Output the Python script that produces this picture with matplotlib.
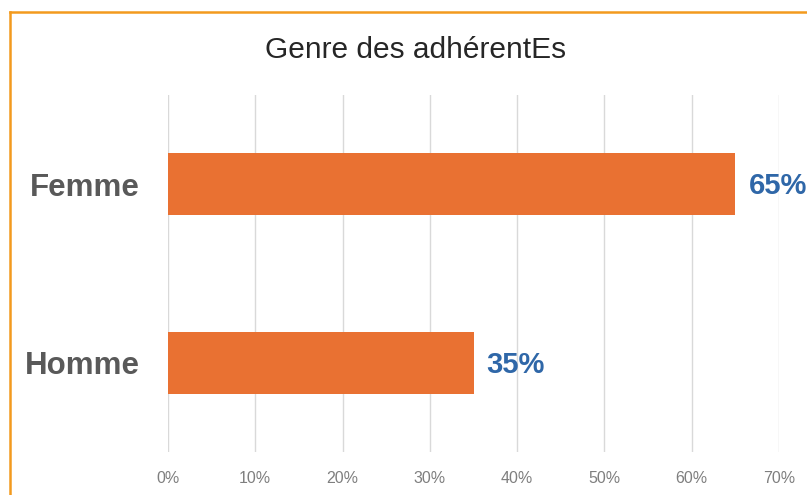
import matplotlib
matplotlib.use("Agg")
import matplotlib.pyplot as plt
from matplotlib.lines import Line2D
from matplotlib.ticker import PercentFormatter

plt.rcParams['font.family'] = ['Liberation Sans', 'DejaVu Sans']

categories = ["Homme", "Femme"]
values = [0.35, 0.65]
title = "Genre des adhérentEs"

fig = plt.figure(figsize=(8.07, 4.95), dpi=100)
ax = fig.add_axes([168/807, 1-452/495, (779-168)/807, (452-95)/495])

ax.barh(categories, values, height=0.35, color="#E97132", zorder=3)
for i, v in enumerate(values):
    ax.text(v + 0.015, i - 0.01, f"{v:.0%}", va="center", ha="left",
            fontsize=21, fontweight="bold", color="#2F67A8", zorder=4, clip_on=False)

ax.set_xlim(0, 0.7)
ax.set_ylim(-0.5, 1.5)
ax.set_xticks([i/10 for i in range(8)])
ax.xaxis.set_major_formatter(PercentFormatter(1.0, decimals=0))
ax.grid(axis="x", color="#D9D9D9", linewidth=1, zorder=0)
for s in ax.spines.values():
    s.set_visible(False)
ax.tick_params(axis="x", length=0, colors="#7F7F7F", labelsize=11.5, pad=14)
ax.tick_params(axis="y", length=0, pad=20)
for lbl in ax.get_yticklabels():
    lbl.set_fontsize(22.5)
    lbl.set_fontweight("bold")
    lbl.set_color("#595959")

fig.text(416/807, 1-50/495, title, ha="center", va="center", fontsize=21.5, color="#262626")

border = "#F39A1E"
fig.add_artist(Line2D([10/807, 10/807], [0, 1-11.5/495], transform=fig.transFigure, color=border, linewidth=1.8))
fig.add_artist(Line2D([10/807, 1], [1-11.5/495, 1-11.5/495], transform=fig.transFigure, color=border, linewidth=1.8))

fig.savefig("out.png", dpi=100)
